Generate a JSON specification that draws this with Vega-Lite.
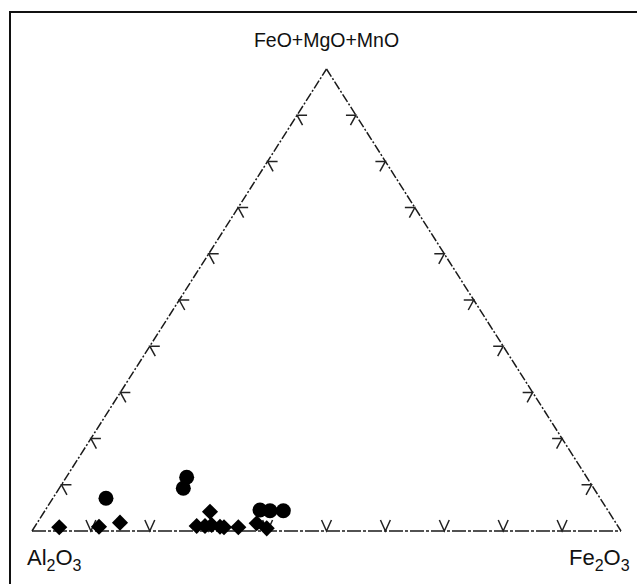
{
  "$schema": "https://vega.github.io/schema/vega-lite/v6.json",
  "width": 640,
  "height": 600,
  "autosize": {"type": "none"},
  "padding": {"left": 10, "top": 12, "right": 0, "bottom": 0},
  "background": "white",
  "config": {"view": {"stroke": "#111", "strokeWidth": 2}},
  "encoding": {
    "x": {"field": "x", "type": "quantitative", "scale": {"domain": [-3.735, 104.924], "nice": false, "zero": false}, "axis": null},
    "y": {"field": "y", "type": "quantitative", "scale": {"domain": [-17.532, 112.338], "nice": false, "zero": false}, "axis": null}
  },
  "layer": [
    {
      "data": {"values": [
        {"edge": "left", "x": 0, "y": 0, "x2": 50, "y2": 100},
        {"edge": "right", "x": 50, "y": 100, "x2": 100, "y2": 0}
      ]},
      "mark": {"type": "rule", "color": "#1a1a1a", "strokeWidth": 1.5, "strokeDash": [9, 2, 2, 2]},
      "encoding": {"x2": {"field": "x2"}, "y2": {"field": "y2"}}
    },
    {
      "data": {"values": [
        {"edge": "bottom", "x": 0, "y": 0, "x2": 100, "y2": 0}
      ]},
      "mark": {"type": "rule", "color": "#1a1a1a", "strokeWidth": 1.5, "strokeDash": [14, 2, 3, 2]},
      "encoding": {"x2": {"field": "x2"}, "y2": {"field": "y2"}}
    },
    {
      "data": {"values": [
        {"x": 5, "y": 10}, {"x": 10, "y": 20}, {"x": 15, "y": 30}, {"x": 20, "y": 40}, {"x": 25, "y": 50},
        {"x": 30, "y": 60}, {"x": 35, "y": 70}, {"x": 40, "y": 80}, {"x": 45, "y": 90}
      ]},
      "mark": {"type": "point", "shape": "M 1 0 L 0 0 L 0.55 1", "size": 400, "filled": false, "stroke": "#222", "strokeWidth": 1.5, "opacity": 1}
    },
    {
      "data": {"values": [
        {"x": 95, "y": 10}, {"x": 90, "y": 20}, {"x": 85, "y": 30}, {"x": 80, "y": 40}, {"x": 75, "y": 50},
        {"x": 70, "y": 60}, {"x": 65, "y": 70}, {"x": 60, "y": 80}, {"x": 55, "y": 90}
      ]},
      "mark": {"type": "point", "shape": "M -1 0 L 0 0 L -0.55 1", "size": 400, "filled": false, "stroke": "#222", "strokeWidth": 1.5, "opacity": 1}
    },
    {
      "data": {"values": [
        {"x": 10, "y": 0}, {"x": 20, "y": 0}, {"x": 30, "y": 0}, {"x": 40, "y": 0}, {"x": 50, "y": 0},
        {"x": 60, "y": 0}, {"x": 70, "y": 0}, {"x": 80, "y": 0}, {"x": 90, "y": 0}
      ]},
      "mark": {"type": "point", "shape": "M -0.45 -1 L 0 0 L 0.45 -1", "size": 484, "filled": false, "stroke": "#222", "strokeWidth": 1.5, "opacity": 1}
    },
    {
      "data": {"values": [
        {"group": "diamond", "x": 4.63, "y": 0.8},
        {"group": "diamond", "x": 11.38, "y": 0.93},
        {"group": "diamond", "x": 14.94, "y": 1.8},
        {"group": "diamond", "x": 27.96, "y": 1.08},
        {"group": "diamond", "x": 29.37, "y": 1.08},
        {"group": "diamond", "x": 30.22, "y": 4.18},
        {"group": "diamond", "x": 30.51, "y": 1.3},
        {"group": "diamond", "x": 31.92, "y": 0.93},
        {"group": "diamond", "x": 32.6, "y": 0.8},
        {"group": "diamond", "x": 35.03, "y": 0.8},
        {"group": "diamond", "x": 38.15, "y": 1.67},
        {"group": "diamond", "x": 39.85, "y": 0.58},
        {"group": "circle", "x": 12.56, "y": 7.08},
        {"group": "circle", "x": 26.26, "y": 11.62},
        {"group": "circle", "x": 25.69, "y": 9.24},
        {"group": "circle", "x": 38.71, "y": 4.55},
        {"group": "circle", "x": 40.41, "y": 4.39},
        {"group": "circle", "x": 42.67, "y": 4.39}
      ]},
      "mark": {"type": "point", "filled": true, "color": "#000", "opacity": 1},
      "encoding": {
        "shape": {"field": "group", "type": "nominal", "scale": {"domain": ["circle", "diamond"], "range": ["circle", "diamond"]}, "legend": null},
        "size": {"field": "group", "type": "ordinal", "scale": {"domain": ["circle", "diamond"], "range": [225, 260]}, "legend": null}
      }
    },
    {
      "data": {"values": [{"label": "FeO+MgO+MnO", "x": 50, "y": 100}]},
      "mark": {"type": "text", "font": "Liberation Sans", "fontSize": 19.5, "color": "#111", "align": "center", "baseline": "alphabetic", "dy": -22},
      "encoding": {"text": {"field": "label"}}
    },
    {
      "data": {"values": [{"label": "Al", "x": 0, "y": 0}]},
      "mark": {"type": "text", "font": "Liberation Sans", "fontSize": 22, "color": "#111", "align": "left", "baseline": "alphabetic", "dx": -5, "dy": 34},
      "encoding": {"text": {"field": "label"}}
    },
    {
      "data": {"values": [{"label": "2", "x": 0, "y": 0}]},
      "mark": {"type": "text", "font": "Liberation Sans", "fontSize": 16, "color": "#111", "align": "left", "baseline": "alphabetic", "dx": 14.6, "dy": 40},
      "encoding": {"text": {"field": "label"}}
    },
    {
      "data": {"values": [{"label": "O", "x": 0, "y": 0}]},
      "mark": {"type": "text", "font": "Liberation Sans", "fontSize": 22, "color": "#111", "align": "left", "baseline": "alphabetic", "dx": 23.5, "dy": 34},
      "encoding": {"text": {"field": "label"}}
    },
    {
      "data": {"values": [{"label": "3", "x": 0, "y": 0}]},
      "mark": {"type": "text", "font": "Liberation Sans", "fontSize": 16, "color": "#111", "align": "left", "baseline": "alphabetic", "dx": 40.6, "dy": 40},
      "encoding": {"text": {"field": "label"}}
    },
    {
      "data": {"values": [{"label": "Fe", "x": 100, "y": 0}]},
      "mark": {"type": "text", "font": "Liberation Sans", "fontSize": 22, "color": "#111", "align": "left", "baseline": "alphabetic", "dx": -52, "dy": 34},
      "encoding": {"text": {"field": "label"}}
    },
    {
      "data": {"values": [{"label": "2", "x": 100, "y": 0}]},
      "mark": {"type": "text", "font": "Liberation Sans", "fontSize": 16, "color": "#111", "align": "left", "baseline": "alphabetic", "dx": -26.3, "dy": 40},
      "encoding": {"text": {"field": "label"}}
    },
    {
      "data": {"values": [{"label": "O", "x": 100, "y": 0}]},
      "mark": {"type": "text", "font": "Liberation Sans", "fontSize": 22, "color": "#111", "align": "left", "baseline": "alphabetic", "dx": -17.4, "dy": 34},
      "encoding": {"text": {"field": "label"}}
    },
    {
      "data": {"values": [{"label": "3", "x": 100, "y": 0}]},
      "mark": {"type": "text", "font": "Liberation Sans", "fontSize": 16, "color": "#111", "align": "left", "baseline": "alphabetic", "dx": -0.3, "dy": 40},
      "encoding": {"text": {"field": "label"}}
    }
  ]
}
